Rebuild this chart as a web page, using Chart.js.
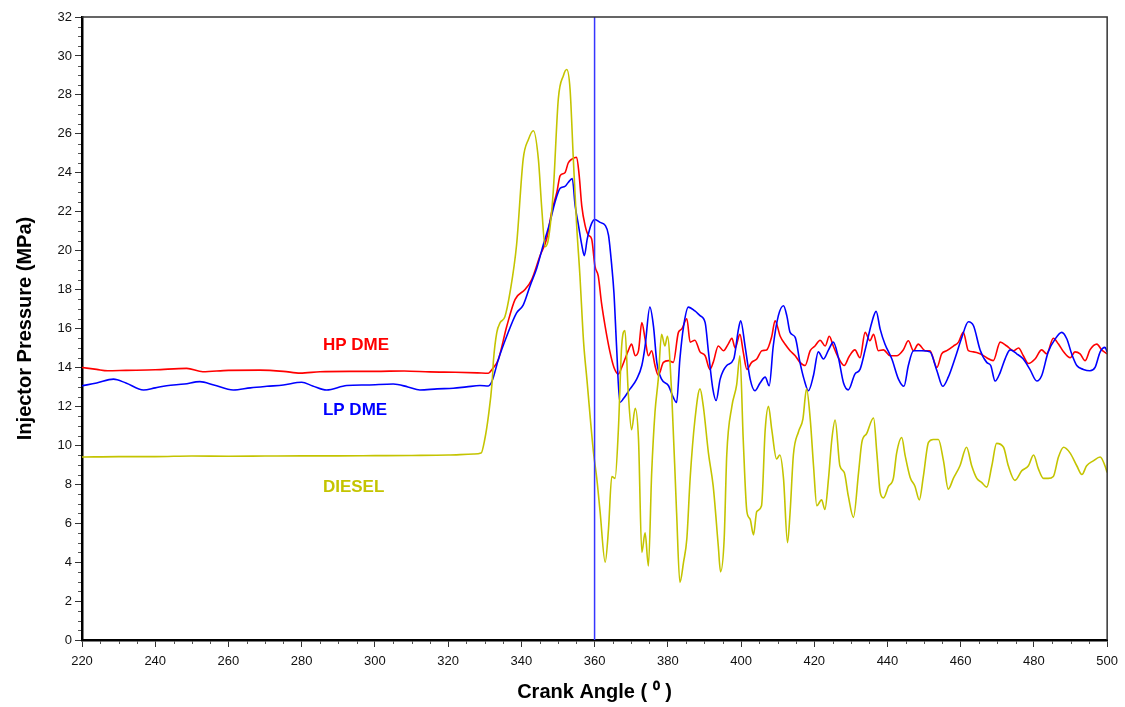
<!DOCTYPE html>
<html>
<head>
<meta charset="utf-8">
<script src="https://cdn.jsdelivr.net/npm/chart.js@4/dist/chart.umd.min.js"></script>
<style>
  html, body { margin: 0; padding: 0; background: #fff; }
  #wrap { width: 1125px; height: 707px; }
</style>
</head>
<body>
<div id="wrap"><canvas id="c" width="1125" height="707"></canvas></div>
<script>
// ---- Data (crank angle in degrees, injector pressure in MPa) ----
const hpDme = [[220,14.0],[224,13.9],[227,13.83],[232,13.85],[240,13.88],[248.6,13.95],[253,13.78],[260,13.85],[268.6,13.86],[275,13.8],[279.6,13.71],[285,13.78],[293,13.8],[300,13.8],[308,13.82],[315,13.77],[322,13.75],[328,13.72],[331,13.7],
[332,13.9],[333.7,14.4],[336,16.1],[338.3,17.5],[341,18.0],[342.8,18.5],[345.1,19.74],[346.9,20.6],[348.3,22.0],[349.7,23.0],[350.6,23.85],[351.9,24.0],[352.8,24.5],[353.8,24.7],[355.1,24.8],[355.8,23.85],[356.5,22.3],[357.4,21.3],[358.3,20.8],[359.2,20.6],[360.1,19.2],[361,18.7],[361.9,17.3],[362.9,16.1],[364.2,14.8],[365.3,14.0],[366.5,13.66],
[367.4,14.0],[368.3,14.43],[369.2,14.86],[370.1,15.2],[371.1,14.6],[372,14.86],[372.9,16.3],[373.8,15.46],[374.7,14.6],[375.6,14.86],[376.5,14.1],[377.4,13.6],[378.8,14.26],[380.2,14.35],[381.5,14.26],[382.9,15.8],[383.8,15.97],[385.2,16.5],[386.1,15.3],[387.4,15.4],[388.8,14.8],[390.2,14.6],[391.5,13.9],[392.4,14.26],[393.8,15.1],[395.2,14.86],[396.5,15.2],[397.5,15.5],[398.4,15.0],[399.7,15.7],[400.6,14.8],[401.6,13.9],[402.9,14.26],[404.3,14.43],[405.7,14.86],[407,14.9],[408.4,15.6],[409.3,16.4],[410.7,15.6],[412,15.2],[413.4,14.86],[414.8,14.6],[416.1,14.26],[417.5,14.1],[418.9,14.86],[420.2,15.1],[421.6,15.4],[423,15.1],[424.1,15.6],[425.2,15.1],[426.6,14.5],
[428.2,14.1],[429.5,14.55],[431.1,14.9],[432.5,14.5],[433.9,15.8],[435.2,15.37],[436.2,15.7],[437.5,14.86],[438.9,14.9],[440.7,14.6],[442.5,14.6],[444.3,14.9],[445.7,15.37],[447.1,14.86],[448.4,15.2],[450.3,14.86],[451.6,14.86],[453.5,14.0],[454.8,14.7],[456.2,14.86],[458,15.1],[459.4,15.3],[460.7,15.8],[462.1,14.86],[463.5,14.8],[465.3,14.7],[467.1,14.5],[468.9,14.35],[470.8,15.3],[472.6,15.1],[474.4,14.86],[475.8,15.0],[477.1,14.6],[478.5,14.2],[480.3,14.43],[482.1,14.9],[483.5,14.7],[485.3,15.5],[486.7,15.2],[488.1,14.8],[489.9,14.5],[491.2,14.8],[492.6,14.7],[494,14.35],[495.3,14.9],[497.2,15.2],[498.5,14.9],[500,14.7]];

const lpDme = [[220,13.06],[224,13.2],[228.6,13.4],[232,13.2],[236.8,12.84],[240,12.95],[243.1,13.06],[248,13.15],[252.2,13.27],[256,13.1],[261.3,12.84],[266,12.95],[270.5,13.03],[275,13.1],[280,13.24],[283,13.05],[286.8,12.84],[292.3,13.07],[298,13.1],[305,13.15],[309,13.0],[312.3,12.84],[317,12.9],[321.4,12.93],[325,13.0],[328.7,13.07],[331,13.05],
[332,13.3],[333.7,14.4],[336,15.6],[338.7,16.8],[340.5,17.2],[342.4,18.2],[344.2,19.1],[346,20.3],[347.8,21.45],[349.2,22.5],[350.6,23.2],[351.9,23.3],[352.8,23.5],[353.9,23.7],[354.7,22.3],[355.6,21.3],[356.5,20.3],[357.2,19.74],[358,20.6],[359.2,21.4],[360.1,21.6],[361.5,21.45],[362.9,21.3],[363.8,20.8],[364.7,19.2],[365.3,17.8],[366,15.1],[366.9,12.2],
[367.9,12.4],[369.7,12.9],[371.5,13.4],[372.9,14.1],[373.8,15.1],[375.1,17.1],[376.1,16.1],[377,14.26],[378.3,13.4],[380.2,13.06],[381.5,12.46],[382.4,12.2],[383.3,14.43],[384.3,16.1],[385.6,17.1],[387.4,16.9],[388.8,16.66],[390.2,16.3],[391.1,14.8],[392.3,12.9],[393.2,12.3],[394.3,13.4],[396.1,14.1],[398,14.43],[399.3,15.97],[399.9,16.4],[401.1,15.1],[402.5,13.4],[403.8,12.8],[405.2,13.2],[406.6,13.5],[407.7,13.06],[408.8,15.1],[410.2,16.66],[411.6,17.17],[412.5,16.66],[413.4,15.8],[414.8,15.54],[416.1,14.26],[417.2,13.4],[418.4,12.8],[419.8,13.6],[421.1,14.8],[422.5,14.43],[423.9,14.9],[425.2,15.3],[426.6,14.5],[428,13.2],[429.3,12.85],[431.1,13.66],[432.5,13.9],[433.9,14.9],[435.7,16.3],[436.9,16.88],[438,15.97],[439.3,15.2],[441.2,14.43],[443,13.4],[444.5,13.03],[445.7,14.1],[447.1,14.86],[449.4,14.86],[451.6,14.8],[453.5,13.83],[455.1,13.03],[456.6,13.5],[458.5,14.5],[460.3,15.54],[462.1,16.35],[463.5,16.14],[465.3,14.9],[467.1,14.26],[468.2,14.1],[469.4,13.3],[470.8,13.75],[472.1,14.43],[473.5,14.9],[475.3,14.7],[477.1,14.43],[478.9,13.9],[480.8,13.3],[482.1,13.57],[483.9,14.8],[485.8,15.46],[487.6,15.8],[489,15.46],[490.3,14.7],[491.7,14.1],[493.5,13.9],[495.3,13.83],[496.7,14.0],[498.1,14.8],[499.4,15.03],[500,14.8]];

const diesel = [[220,9.4],[230,9.42],[240,9.42],[250,9.45],[260,9.44],[270,9.45],[280,9.46],[290,9.46],[300,9.47],[310,9.48],[320,9.5],[327,9.55],[329,9.6],[330,10.3],[331,11.5],[332,13.2],[332.4,14.4],[333.3,15.8],[334.2,16.3],[335.5,16.6],[336.9,17.85],[338.7,20.3],[340.5,24.7],[341.9,25.7],[343.3,26.16],[344.65,24.7],[345.6,22.1],[346.5,20.2],[347.4,20.6],[348.7,23.0],[350.1,27.8],[351.5,29.0],[352.4,29.3],[353.3,28.3],[354.2,24.7],[355.1,21.3],[356,18.7],[357,15.3],[357.9,13.4],[359.7,9.64],[360.6,8.3],[361.5,6.6],[362.9,4.0],[363.8,5.7],[364.7,8.4],[365.6,8.3],[366.5,10.8],[367.4,15.1],[368.3,15.9],[369.2,12.7],[370.1,10.8],[371.1,11.9],[372,10.3],[372.9,4.5],[373.8,5.5],[374.7,3.8],[375.6,8.6],[376.5,11.7],[377.4,13.4],[378.3,15.7],[379.2,15.1],[379.9,15.6],[381.1,12.5],[382.4,6.55],[383.3,2.96],[384.3,4.0],[385.2,5.2],[386.1,8.3],[387.4,11.3],[388.8,12.9],[389.7,12.0],[391.1,9.6],[392.4,7.9],[393.8,4.8],[394.4,3.5],[395.4,5.2],[396.1,9.5],[397.5,12.0],[398.8,13.1],[399.7,14.6],[400.6,10.3],[401.6,6.6],[402.5,6.2],[403.4,5.4],[404.3,6.6],[405.6,6.9],[406.6,10.8],[407.5,12.0],[408.4,10.8],[409.7,9.3],[410.6,9.5],[411.6,8.3],[412.7,5.0],[413.4,6.55],[414.3,9.5],[415.7,10.7],[416.9,11.35],[417.9,12.9],[418.9,11.35],[419.8,8.95],[420.7,6.9],[422,7.2],[422.9,6.7],[423.9,8.3],[424.8,10.3],[425.7,11.3],[427,8.95],[428.2,8.6],[429.3,7.4],[430.7,6.3],[432.1,8.6],[433,10.15],[434.3,10.6],[436.2,11.4],[437.1,9.6],[438,7.6],[438.9,7.3],[440.3,7.9],[441.6,8.3],[442.5,9.6],[443.9,10.4],[444.8,9.5],[446.2,8.35],[447.5,7.9],[448.7,7.2],[449.8,8.4],[451.2,10.15],[452.5,10.3],[453.9,10.3],[455.3,9.2],[456.6,7.75],[458,8.3],[459.8,8.95],[461.6,9.9],[463,8.95],[464.4,8.3],[465.7,8.1],[467.1,7.85],[468.5,8.95],[469.8,10.1],[471.7,9.9],[473,8.95],[474.8,8.2],[476.7,8.7],[478.5,8.95],[479.9,9.5],[481.2,8.8],[482.6,8.3],[483.9,8.3],[485.3,8.4],[486.7,9.4],[488.1,9.9],[489.9,9.6],[491.7,8.95],[493.1,8.5],[494.4,8.95],[496.2,9.2],[498.1,9.4],[499.4,8.95],[500,8.6]];

const tdcAngle = 360;          // vertical reference line
const seriesLabels = [
  { text: 'HP DME', x: 285.8, y: 15.15, color: '#ff0000' },
  { text: 'LP DME', x: 285.8, y: 11.8,  color: '#0000ff' },
  { text: 'DIESEL', x: 285.8, y: 7.85,  color: '#c4c400' }
];
const xMin = 220, xMax = 500, xStep = 20, xMinorPerMajor = 4;
const yMin = 0, yMax = 32, yStep = 2, yMinorPerMajor = 4;

const toXY = arr => arr.map(p => ({ x: p[0], y: p[1] }));
const FONT = "'Liberation Sans', Arial, sans-serif";

const extras = {
  id: 'extras',
  afterDraw(chart) {
    const ctx = chart.ctx, a = chart.chartArea;
    const xs = chart.scales.x, ys = chart.scales.y;
    ctx.save();
    // top & right frame
    ctx.strokeStyle = '#333';
    ctx.lineWidth = 1.5;
    ctx.beginPath();
    ctx.moveTo(a.left, a.top); ctx.lineTo(a.right, a.top); ctx.lineTo(a.right, a.bottom);
    ctx.stroke();
    // minor ticks
    ctx.strokeStyle = '#555';
    ctx.lineWidth = 1;
    ctx.beginPath();
    const nx = Math.round((xMax - xMin) / xStep) * xMinorPerMajor;
    for (let i = 0; i <= nx; i++) {
      if (i % xMinorPerMajor === 0) continue;
      const v = xMin + i * xStep / xMinorPerMajor;
      const px = Math.round(xs.getPixelForValue(v)) + 0.5;
      ctx.moveTo(px, a.bottom + 1); ctx.lineTo(px, a.bottom + 4);
    }
    const ny = Math.round((yMax - yMin) / yStep) * yMinorPerMajor;
    for (let i = 0; i <= ny; i++) {
      if (i % yMinorPerMajor === 0) continue;
      const v = yMin + i * yStep / yMinorPerMajor;
      const py = Math.round(ys.getPixelForValue(v)) + 0.5;
      ctx.moveTo(a.left - 1, py); ctx.lineTo(a.left - 4, py);
    }
    ctx.stroke();
    // series labels
    ctx.font = 'bold 17px ' + FONT;
    ctx.textBaseline = 'middle';
    ctx.textAlign = 'left';
    seriesLabels.forEach(l => {
      ctx.fillStyle = l.color;
      ctx.fillText(l.text, xs.getPixelForValue(l.x), ys.getPixelForValue(l.y));
    });
    ctx.restore();
  }
};

const lineStyle = { showLine: true, borderWidth: 1.6, pointRadius: 0, cubicInterpolationMode: 'monotone' };

new Chart(document.getElementById('c'), {
  type: 'scatter',
  data: {
    datasets: [
      { label: 'TDC', data: [{ x: tdcAngle, y: yMin }, { x: tdcAngle, y: yMax }], showLine: true, borderColor: '#3535ff', borderWidth: 1.5, pointRadius: 0 },
      Object.assign({ label: 'DIESEL', data: toXY(diesel), borderColor: '#c4c400' }, lineStyle),
      Object.assign({ label: 'LP DME', data: toXY(lpDme), borderColor: '#0000ff' }, lineStyle),
      Object.assign({ label: 'HP DME', data: toXY(hpDme), borderColor: '#ff0000' }, lineStyle)
    ]
  },
  options: {
    responsive: false,
    animation: false,
    events: [],
    layout: { padding: { top: 17, right: 17, left: 0, bottom: 0 } },
    plugins: { legend: { display: false }, tooltip: { enabled: false } },
    scales: {
      x: {
        type: 'linear', min: xMin, max: xMax,
        afterFit: s => { s.height = 67; },
        afterBuildTicks: s => { s.ticks = s.ticks.filter(t => Math.abs((t.value - xMin) % xStep) < 1e-6); },
        ticks: { stepSize: xStep, color: '#111', font: { family: FONT, size: 13 }, padding: 7, maxRotation: 0, autoSkip: false },
        grid: { drawOnChartArea: false, drawTicks: true, tickLength: 7, tickColor: '#333', tickWidth: 1 },
        border: { display: true, color: '#000', width: 2.5 },
        title: { display: true, text: 'Crank Angle ( \u2070 )', color: '#000', font: { family: FONT, size: 20, weight: 'bold' }, padding: { top: 0, bottom: 3 } }
      },
      y: {
        type: 'linear', min: yMin, max: yMax,
        afterFit: s => { s.width = 82; },
        afterBuildTicks: s => { s.ticks = s.ticks.filter(t => Math.abs((t.value - yMin) % yStep) < 1e-6); },
        ticks: { stepSize: yStep, color: '#111', font: { family: FONT, size: 13 }, padding: 3, autoSkip: false },
        grid: { drawOnChartArea: false, drawTicks: true, tickLength: 7, tickColor: '#333', tickWidth: 1 },
        border: { display: true, color: '#000', width: 2.5 },
        title: { display: true, text: 'Injector Pressure (MPa)', color: '#000', font: { family: FONT, size: 20, weight: 'bold' }, padding: { top: 13, bottom: 0 } }
      }
    }
  },
  plugins: [extras]
});
</script>
</body>
</html>
